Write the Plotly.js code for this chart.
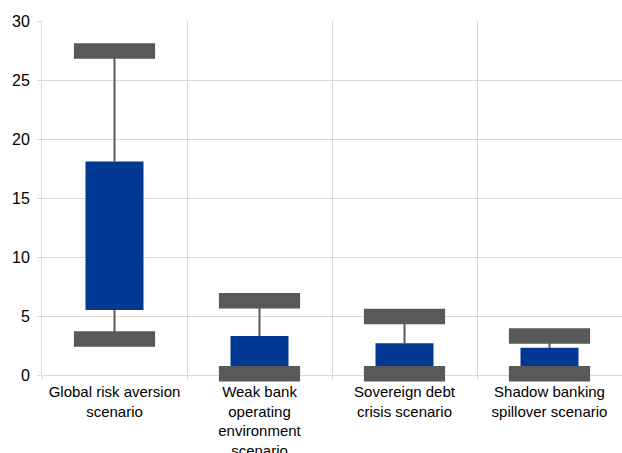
<!DOCTYPE html>
<html>
<head>
<meta charset="utf-8">
<script src="https://cdn.plot.ly/plotly-3.0.1.min.js"></script>
<style>html,body{margin:0;padding:0;background:#fff;}#chart{width:622px;height:453px;}</style>
</head>
<body>
<div id="chart"></div>
<script>
// Data
const categories = [
  "Global risk aversion<br>scenario",
  "Weak bank<br>operating<br>environment<br>scenario",
  "Sovereign debt<br>crisis scenario",
  "Shadow banking<br>spillover scenario"
];
const boxLow  = [5.5, 0.0, 0.0, 0.0];
const boxHigh = [18.1, 3.3, 2.7, 2.3];
const capHigh = [27.45, 6.3, 4.95, 3.3];
const capLow  = [3.05, 0.1, 0.1, 0.1];

const grey = "#595959";
const blue = "#003893";

// whisker segments
const wx = [], wy = [];
categories.forEach((c, i) => {
  wx.push(c, c, null); wy.push(boxHigh[i], capHigh[i], null);
  wx.push(c, c, null); wy.push(boxLow[i], capLow[i], null);
});

const capMarker = {symbol: "line-ew", size: 58, color: grey, line: {color: grey, width: 15.5}};

const traces = [
  {type: "scatter", mode: "lines", x: wx, y: wy, line: {color: grey, width: 2},
   hoverinfo: "skip", showlegend: false, cliponaxis: false},
  {type: "bar", x: categories, base: boxLow, y: boxHigh.map((h, i) => h - boxLow[i]),
   marker: {color: blue, line: {width: 0}}, width: 0.4, showlegend: false},
  {type: "scatter", mode: "markers", x: categories, y: capHigh,
   marker: capMarker, showlegend: false, cliponaxis: false},
  {type: "scatter", mode: "markers", x: categories, y: capLow,
   marker: capMarker, showlegend: false, cliponaxis: false}
];

const layout = {
  width: 622, height: 453,
  margin: {l: 42, r: 0, t: 21, b: 78},
  paper_bgcolor: "#fff", plot_bgcolor: "#fff",
  font: {family: "Liberation Sans, Arial, sans-serif", size: 15, color: "#000"},
  showlegend: false,
  xaxis: {
    type: "category", tickson: "boundaries",
    showgrid: true, gridcolor: "#d9d9d9", gridwidth: 1,
    showline: false, zeroline: false,
    ticks: "outside", ticklen: 4, tickcolor: "#d9d9d9",
    tickfont: {size: 15, color: "#000"}, ticklabelstandoff: 6,
    range: [-0.5, 3.5], fixedrange: true
  },
  yaxis: {
    range: [0, 30], dtick: 5, tick0: 0,
    showgrid: true, gridcolor: "#d9d9d9", gridwidth: 1,
    showline: true, linecolor: "#d9d9d9", linewidth: 1,
    zeroline: true, zerolinecolor: "#d9d9d9", zerolinewidth: 1,
    ticks: "outside", ticklen: 4, tickcolor: "#d9d9d9",
    tickfont: {size: 16, color: "#000"}, ticklabelstandoff: 4, fixedrange: true
  },
  bargap: 0.6
};

Plotly.newPlot("chart", traces, layout, {displayModeBar: false, staticPlot: true});
</script>
</body>
</html>
